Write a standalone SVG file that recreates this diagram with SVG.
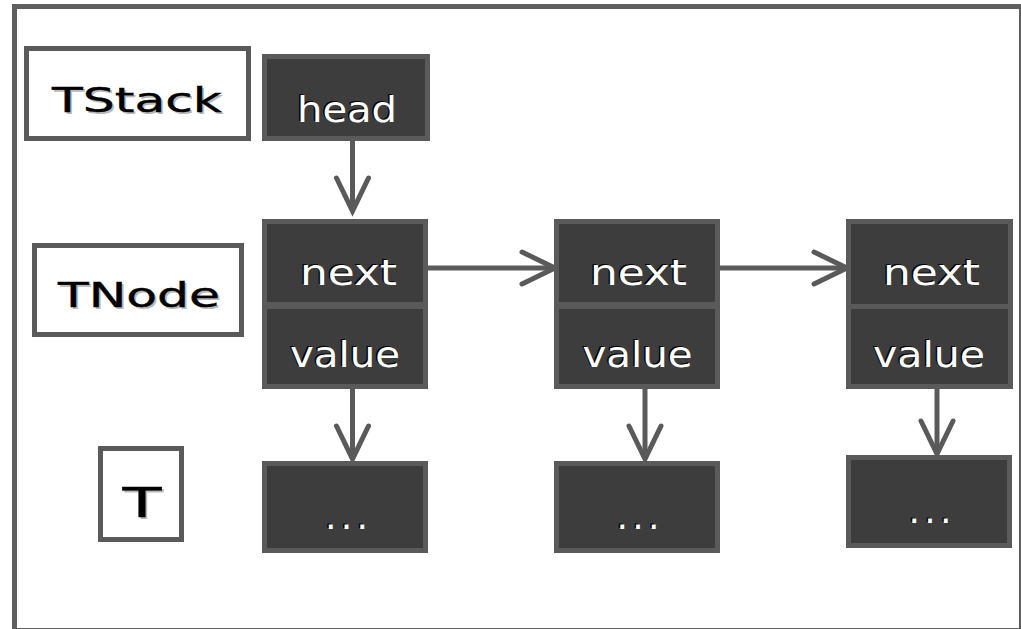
<svg xmlns="http://www.w3.org/2000/svg" width="1021" height="629" viewBox="0 0 1021 629">
  <defs>
    <style>
      .frame { fill: #ffffff; stroke: #5e5e5e; stroke-width: 5; }
      .label-box { fill: #ffffff; stroke: #5a5a5a; stroke-width: 5; }
      .cell { fill: #3d3d3d; stroke: #5a5a5a; stroke-width: 5; }
      .edge { fill: none; stroke: #5a5a5a; stroke-width: 5; stroke-linecap: butt; }
      .t { font-family: "DejaVu Sans", "Liberation Sans", sans-serif; text-anchor: middle; }
      .lbl { font-size: 34px; fill: #000000; stroke: #000000; stroke-width: 0.4; }
      .lbl-sh { font-size: 34px; fill: #b8b8b8; }
      .cap { font-size: 36px; fill: #ffffff; }
      .cap-sh { font-size: 36px; fill: #000000; }
    </style>
    <marker id="chevron" markerUnits="userSpaceOnUse" viewBox="-40 -22 46 44" markerWidth="46" markerHeight="44" refX="0" refY="0" orient="auto" overflow="visible">
      <path d="M-33,-16 L0,0 L-33,16" fill="none" stroke="#5a5a5a" stroke-width="5" stroke-linecap="round" stroke-linejoin="miter"/>
    </marker>
  </defs>

  <!-- outer frame -->
  <rect class="frame" x="14.5" y="6.5" width="1007" height="624"/>

  <!-- connectors -->
  <g id="connectors">
    <path class="edge" d="M352.5,141 L352.5,211" marker-end="url(#chevron)"/>
    <path class="edge" d="M428,268 L555,268" marker-end="url(#chevron)"/>
    <path class="edge" d="M720,268 L847,268" marker-end="url(#chevron)"/>
    <path class="edge" d="M352.5,389 L352.5,459" marker-end="url(#chevron)"/>
    <path class="edge" d="M645,389 L645,459" marker-end="url(#chevron)"/>
    <path class="edge" d="M937,389 L937,454" marker-end="url(#chevron)"/>
  </g>

  <!-- row labels -->
  <g id="label-tstack">
    <rect class="label-box" x="26.5" y="48.5" width="222" height="90"/>
    <text class="t lbl-sh" x="139" y="114" textLength="170" lengthAdjust="spacingAndGlyphs">TStack</text>
    <text class="t lbl" x="137" y="112" textLength="170" lengthAdjust="spacingAndGlyphs">TStack</text>
  </g>
  <g id="label-tnode">
    <rect class="label-box" x="34.5" y="245.5" width="207" height="89"/>
    <text class="t lbl-sh" x="141" y="309" textLength="162" lengthAdjust="spacingAndGlyphs">TNode</text>
    <text class="t lbl" x="139" y="307" textLength="162" lengthAdjust="spacingAndGlyphs">TNode</text>
  </g>
  <g id="label-t">
    <rect class="label-box" x="100.5" y="448.5" width="81" height="91"/>
    <text class="t lbl-sh" x="144" y="519" style="font-size:41px" textLength="39" lengthAdjust="spacingAndGlyphs">T</text>
    <text class="t lbl" x="142" y="517" style="font-size:41px" textLength="39" lengthAdjust="spacingAndGlyphs">T</text>
  </g>

  <!-- stack head -->
  <g id="head">
    <rect class="cell" x="264.5" y="56.5" width="163" height="82"/>
    <text class="t cap-sh" x="345.5" y="121" textLength="100" lengthAdjust="spacingAndGlyphs">head</text>
    <text class="t cap" x="347" y="122" textLength="100" lengthAdjust="spacingAndGlyphs">head</text>
  </g>

  <!-- node 1 -->
  <g id="node-1">
    <rect class="cell" x="264.5" y="221.5" width="161" height="83"/>
    <rect class="cell" x="264.5" y="306.5" width="161" height="80"/>
    <text class="t cap-sh" x="347" y="284" textLength="97" lengthAdjust="spacingAndGlyphs">next</text>
    <text class="t cap" x="348.5" y="285" textLength="97" lengthAdjust="spacingAndGlyphs">next</text>
    <text class="t cap-sh" x="343.5" y="366" textLength="110" lengthAdjust="spacingAndGlyphs">value</text>
    <text class="t cap" x="345" y="367" textLength="110" lengthAdjust="spacingAndGlyphs">value</text>
  </g>

  <!-- node 2 -->
  <g id="node-2">
    <rect class="cell" x="556.5" y="221.5" width="161" height="83"/>
    <rect class="cell" x="556.5" y="306.5" width="161" height="80"/>
    <text class="t cap-sh" x="637" y="284" textLength="97" lengthAdjust="spacingAndGlyphs">next</text>
    <text class="t cap" x="638.5" y="285" textLength="97" lengthAdjust="spacingAndGlyphs">next</text>
    <text class="t cap-sh" x="636" y="366" textLength="110" lengthAdjust="spacingAndGlyphs">value</text>
    <text class="t cap" x="637.5" y="367" textLength="110" lengthAdjust="spacingAndGlyphs">value</text>
  </g>

  <!-- node 3 -->
  <g id="node-3">
    <rect class="cell" x="848.5" y="221.5" width="162" height="85"/>
    <rect class="cell" x="848.5" y="306.5" width="162" height="80"/>
    <text class="t cap-sh" x="930" y="284" textLength="97" lengthAdjust="spacingAndGlyphs">next</text>
    <text class="t cap" x="931.5" y="285" textLength="97" lengthAdjust="spacingAndGlyphs">next</text>
    <text class="t cap-sh" x="927.5" y="366" textLength="112" lengthAdjust="spacingAndGlyphs">value</text>
    <text class="t cap" x="929" y="367" textLength="112" lengthAdjust="spacingAndGlyphs">value</text>
  </g>

  <!-- values -->
  <g id="value-1">
    <rect class="cell" x="264.5" y="463.5" width="161" height="87"/>
    <text class="t cap-sh" x="345" y="528" textLength="43" lengthAdjust="spacing">...</text>
    <text class="t cap" x="346.5" y="529" textLength="43" lengthAdjust="spacing">...</text>
  </g>
  <g id="value-2">
    <rect class="cell" x="556.5" y="463.5" width="161" height="87"/>
    <text class="t cap-sh" x="636.5" y="528" textLength="43" lengthAdjust="spacing">...</text>
    <text class="t cap" x="638" y="529" textLength="43" lengthAdjust="spacing">...</text>
  </g>
  <g id="value-3">
    <rect class="cell" x="848.5" y="457.5" width="161" height="88"/>
    <text class="t cap-sh" x="928.5" y="522" textLength="43" lengthAdjust="spacing">...</text>
    <text class="t cap" x="930" y="523" textLength="43" lengthAdjust="spacing">...</text>
  </g>
</svg>
